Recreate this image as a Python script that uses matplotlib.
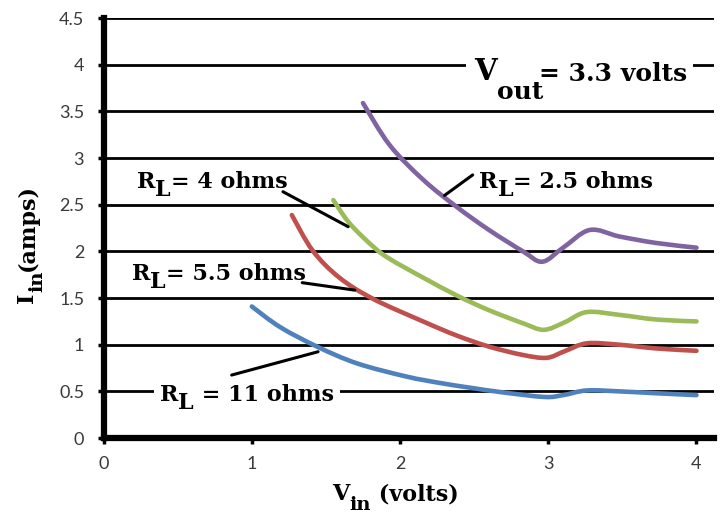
import matplotlib
matplotlib.use('Agg')
import matplotlib.pyplot as plt
from matplotlib.path import Path
from matplotlib.patches import PathPatch, Rectangle
from matplotlib.transforms import Bbox

# input voltage / input current, one list per load
vin_11 = [1.00, 1.19, 1.44, 1.71, 2.04, 2.27, 2.47, 2.69, 2.975, 3.10, 3.26, 3.48, 3.73, 4.00]
iin_11 = [1.41, 1.19, 0.98, 0.80, 0.66, 0.59, 0.54, 0.49, 0.44, 0.46, 0.51, 0.50, 0.48, 0.46]

vin_55 = [1.27, 1.41, 1.59, 1.82, 2.155, 2.38, 2.60, 2.83, 2.99, 3.11, 3.26, 3.48, 3.73, 4.00]
iin_55 = [2.39, 2.01, 1.72, 1.49, 1.25, 1.10, 0.98, 0.89, 0.86, 0.93, 1.015, 1.00, 0.96, 0.935]

vin_4 = [1.55, 1.66, 1.82, 1.93, 2.155, 2.38, 2.60, 2.83, 2.97, 3.11, 3.26, 3.48, 3.73, 4.00]
iin_4 = [2.55, 2.30, 2.05, 1.92, 1.72, 1.53, 1.37, 1.23, 1.16, 1.24, 1.35, 1.32, 1.27, 1.25]

vin_25 = [1.75, 1.93, 2.155, 2.38, 2.60, 2.83, 2.96, 3.10, 3.28, 3.48, 3.73, 4.00]
iin_25 = [3.59, 3.14, 2.77, 2.48, 2.23, 2.00, 1.89, 2.04, 2.23, 2.16, 2.09, 2.04]

yticks = [0, 0.5, 1, 1.5, 2, 2.5, 3, 3.5, 4, 4.5]
xticks = [0, 1, 2, 3, 4]

SERIF = 'DejaVu Serif'

fig = plt.figure(figsize=(7.27, 5.19), dpi=100)
ax = fig.add_axes([0.1425, 0.156, 0.84, 0.809])

for v in yticks[1:]:
    ax.axhline(v, color='black', lw=2, zorder=1)


def smooth_line(xs, ys, color):
    # excel style smoothed line through the points (bezier segments)
    pts = list(zip(xs, ys))
    n = len(pts)
    verts = [pts[0]]
    codes = [Path.MOVETO]
    for i in range(n - 1):
        p0 = pts[i - 1] if i > 0 else pts[i]
        p1 = pts[i]
        p2 = pts[i + 1]
        p3 = pts[i + 2] if i + 2 < n else pts[i + 1]
        c1 = (p1[0] + (p2[0] - p0[0]) / 6, p1[1] + (p2[1] - p0[1]) / 6)
        c2 = (p2[0] - (p3[0] - p1[0]) / 6, p2[1] - (p3[1] - p1[1]) / 6)
        verts += [c1, c2, p2]
        codes += [Path.CURVE4] * 3
    ax.add_patch(PathPatch(Path(verts, codes), fill=False, edgecolor=color,
                           lw=3.3, capstyle='round', joinstyle='round', zorder=3))


smooth_line(vin_11, iin_11, '#4F81BD')
smooth_line(vin_55, iin_55, '#C0504D')
smooth_line(vin_4, iin_4, '#9BBB59')
smooth_line(vin_25, iin_25, '#8064A2')

ax.set_xlim(0, 4.12)
ax.set_ylim(0, 4.5)
ax.set_xticks(xticks)
ax.set_yticks(yticks)
ax.set_xticklabels([str(t) for t in xticks])
ax.set_yticklabels([('%g' % t) for t in yticks])
for s in ['top', 'right']:
    ax.spines[s].set_visible(False)
for s in ['left', 'bottom']:
    ax.spines[s].set_linewidth(4.5)
    ax.spines[s].set_zorder(4)
ax.tick_params(axis='both', direction='out', length=4, width=2.5, color='black',
               labelsize=13, labelcolor='#3a3a3a')
ax.tick_params(axis='y', pad=10)
ax.tick_params(axis='x', pad=9)
for lab in ax.get_xticklabels() + ax.get_yticklabels():
    lab.set_family('Lato')

boxed = []


def sub_label(x, y, main, sub, rest, size, sub_size=None, rest_size=None, drop=6,
              rest_gap=0, rotation=0, box=None):
    sub_size = sub_size or size
    rest_size = rest_size or size
    kw = dict(family=SERIF, weight='bold', color='black', zorder=6)
    if rotation:
        rk = dict(rotation=90, rotation_mode='anchor', ha='left', va='bottom')
        t1 = ax.text(x, y, main, fontsize=size, clip_on=False, **rk, **kw)
        t2 = ax.annotate(sub, xy=(1, 1), xycoords=t1, xytext=(drop, 0),
                         textcoords='offset points', fontsize=sub_size, **rk, **kw)
        t3 = ax.annotate(rest, xy=(1, 1), xycoords=t2, xytext=(-drop, rest_gap),
                         textcoords='offset points', fontsize=rest_size, **rk, **kw)
    else:
        t1 = ax.text(x, y, main, fontsize=size, ha='left', va='bottom',
                     clip_on=False, **kw)
        t2 = ax.annotate(sub, xy=(1, 0), xycoords=t1, xytext=(0, -drop),
                         textcoords='offset points', fontsize=sub_size,
                         ha='left', va='bottom', **kw)
        t3 = ax.annotate(rest, xy=(1, 0), xycoords=t2, xytext=(rest_gap, drop),
                         textcoords='offset points', fontsize=rest_size,
                         ha='left', va='bottom', **kw)
    if box is not None:
        boxed.append(([t1, t2, t3], box))


def pointer(x0, y0, x1, y1):
    ax.annotate('', xy=(x1, y1), xytext=(x0, y0),
                arrowprops=dict(arrowstyle='-', color='black', lw=2.2,
                                shrinkA=0, shrinkB=0), zorder=5)


sub_label(0.225, 2.63, 'R', 'L', '= 4 ohms', 16, drop=6)
sub_label(0.19, 1.645, 'R', 'L', '= 5.5 ohms', 16, drop=6, box=(6, 6, 2, 8))
sub_label(0.38, 0.345, 'R', 'L', ' = 11 ohms', 16, drop=6, box=(6, 6, 2, 4))
sub_label(2.535, 2.63, 'R', 'L', '= 2.5 ohms', 16, drop=6)
sub_label(2.50, 3.77, 'V', 'out', '= 3.3 volts', 21, sub_size=18, rest_size=18,
          drop=13, rest_gap=-3, box=(8, 6, 0, 4))

pointer(1.21, 2.64, 1.65, 2.265)
pointer(1.34, 1.665, 1.695, 1.585)
pointer(0.864, 0.675, 1.447, 0.925)
pointer(2.30, 2.60, 2.49, 2.82)

# axis titles
sub_label(1.54, -0.72, 'V', 'in', ' (volts)', 16, sub_size=14, drop=6)
sub_label(-0.44, 1.45, 'I', 'in', '(amps)', 16, sub_size=14, drop=6, rotation=90)

# white background behind the labels that sit on a grid line
fig.canvas.draw()
r = fig.canvas.get_renderer()
for texts, (pl, pr, pb, pt) in boxed:
    bb = Bbox.union([t.get_window_extent(r) for t in texts])
    ax.add_artist(Rectangle((bb.x0 - pl, bb.y0 - pb), bb.width + pl + pr,
                            bb.height + pb + pt, transform=None, clip_on=False,
                            facecolor='white', edgecolor='none', zorder=2.5))

fig.savefig('out.png', dpi=100)
